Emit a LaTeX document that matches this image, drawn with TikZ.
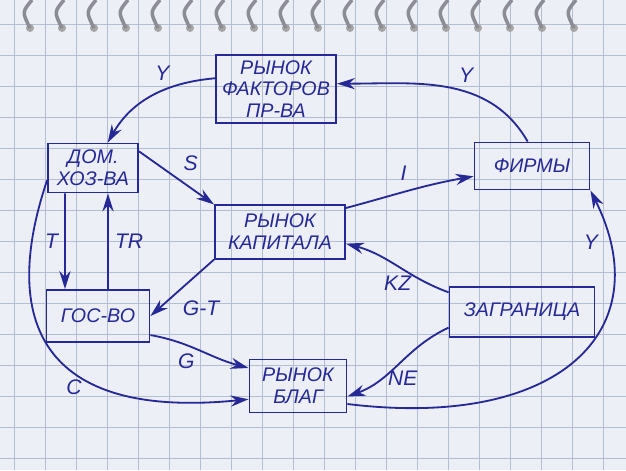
\documentclass[tikz,border=0pt]{standalone}
\usepackage{fontspec}
\setmainfont{Liberation Sans}
\usetikzlibrary{arrows.meta}
\definecolor{ink}{RGB}{38,40,150}
\definecolor{paper}{RGB}{236,239,246}
\definecolor{gridc}{RGB}{180,190,210}
\definecolor{ringc}{RGB}{140,140,150}

\begin{document}
\begin{tikzpicture}[x=0.025cm,y=-0.025cm,line width=1.3pt,>={Stealth[length=4.5mm,width=2.8mm]},
  box/.style={draw=ink,text=ink,align=center,font=\itshape\fontsize{14}{15.5}\selectfont,inner sep=2pt},
  flow/.style={draw=ink,->},
  lbl/.style={text=ink,font=\itshape\fontsize{15}{17}\selectfont}]
  % paper
  \fill[paper] (0,0) rectangle (626,470);
  \useasboundingbox (0,0) rectangle (626,470);
  \foreach \gx in {14,45,...,626} \draw[gridc,line width=0.6pt] (\gx,0) -- (\gx,470);
  \foreach \gy in {24,55,...,470} \draw[gridc,line width=0.6pt] (0,\gy) -- (626,\gy);
  \foreach \rx in {30,62,...,600} {
    \fill[gray!70] (\rx,28) circle (4);
    \draw[ringc,line width=2.5pt] (\rx,28) .. controls (\rx-8,12) .. (\rx+2,0);
  }
  % markets and sectors
  \node[box,minimum width=3cm,minimum height=1.7cm] (factors) at (276,89) {РЫНОК\\ФАКТОРОВ\\ПР-ВА};
  \node[box,minimum width=2.25cm,minimum height=1.225cm] (house) at (93,168) {ДОМ.\\ХОЗ-ВА};
  \node[box,minimum width=3.25cm,minimum height=1.33cm] (capital) at (280,232) {РЫНОК\\КАПИТАЛА};
  \node[box,minimum width=2.875cm,minimum height=1.175cm] (firms) at (532,166) {ФИРМЫ};
  \node[box,minimum width=2.575cm,minimum height=1.3cm] (gov) at (98,316) {ГОС-ВО};
  \node[box,minimum width=3.625cm,minimum height=1.25cm] (abroad) at (522,312) {ЗАГРАНИЦА};
  \node[box,minimum width=2.425cm,minimum height=1.325cm] (goods) at (298,386) {РЫНОК\\БЛАГ};
  % flows
  \draw[flow] (firms.100) to[out=120,in=0] node[lbl,pos=0.4,above=3pt]{Y} (factors.5);
  \draw[flow] (factors.170) to[out=185,in=60] node[lbl,pos=0.3,above left=0pt]{Y} (house.60);
  \draw[flow] (house.20) -- node[lbl,pos=0.5,above right=1pt]{S} (capital.north west);
  \draw[flow] (capital.20) to[out=15,in=190] node[lbl,pos=0.45,above=4pt]{I} (firms.190);
  \draw[flow] ([xshift=-0.7cm]house.south) -- node[lbl,left=1pt]{T} ([xshift=-0.825cm]gov.north);
  \draw[flow] ([xshift=0.25cm]gov.north) -- node[lbl,right=1pt]{TR} ([xshift=0.375cm]house.south);
  \draw[flow] (capital.south west) -- node[lbl,pos=0.6,below right=1pt]{G-T} (gov.east);
  \draw[flow] (abroad.165) to[out=160,in=-15] node[lbl,pos=0.5,below=3pt]{KZ} (capital.-10);
  \draw[flow] (gov.-20) to[out=-10,in=165] node[lbl,pos=0.35,below=2pt]{G} (goods.160);
  \draw[flow] (abroad.192) to[out=205,in=20] node[lbl,pos=0.45,below=4pt]{NE} (goods.-12);
  \draw[flow] (house.195) .. controls (0,320) and (40,420) .. node[lbl,pos=0.6,below=2pt]{C} (goods.195);
  \draw[flow] (goods.-20) .. controls (560,430) and (660,330) .. node[lbl,pos=0.87,left=4pt]{Y} (firms.south east);
\end{tikzpicture}
\end{document}
